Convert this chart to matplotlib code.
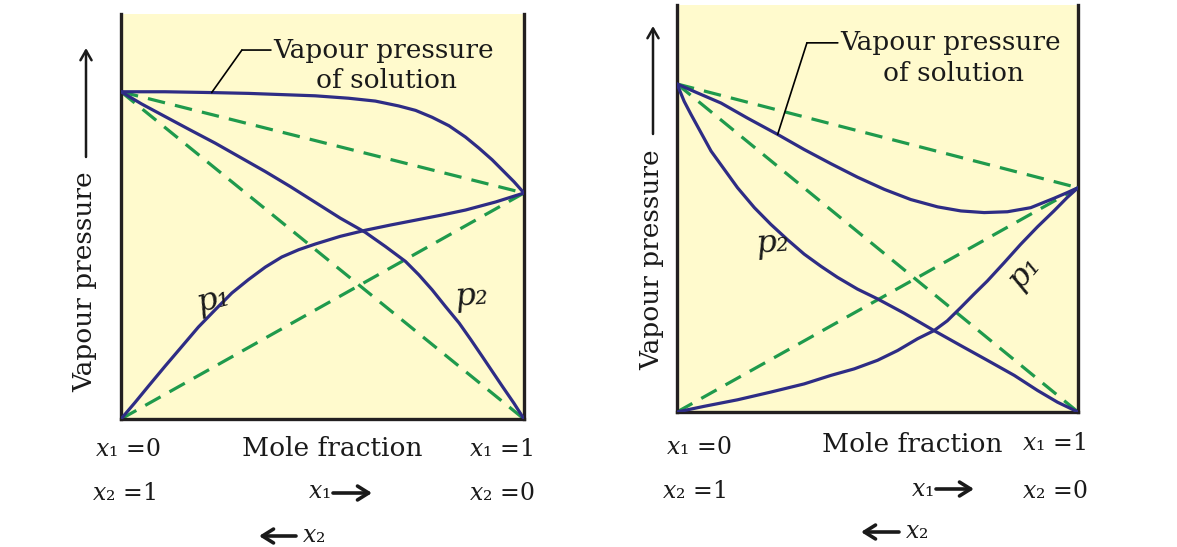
import matplotlib
matplotlib.use("Agg")
import matplotlib.pyplot as plt
from matplotlib.patches import FancyArrowPatch

# ---------------- data (fractions of axes) ----------------
# Left panel: positive deviation
L_total_x = [0, 0.109, 0.225, 0.316, 0.399, 0.482, 0.565, 0.631, 0.689, 0.731, 0.772,
             0.814, 0.855, 0.888, 0.921, 0.946, 0.975, 1.0]
L_total_y = [0.808, 0.808, 0.806, 0.804, 0.801, 0.798, 0.792, 0.785, 0.773, 0.762, 0.745,
             0.724, 0.696, 0.669, 0.640, 0.615, 0.586, 0.558]
L_p2_x = [0, 0.051, 0.109, 0.171, 0.234, 0.296, 0.358, 0.420, 0.482, 0.544, 0.606, 0.656,
          0.706, 0.739, 0.772, 0.805, 0.839, 0.868, 0.896, 0.921, 0.946, 0.975, 1.0]
L_p2_y = [0.808, 0.778, 0.747, 0.714, 0.681, 0.646, 0.611, 0.574, 0.535, 0.496, 0.461, 0.426,
          0.389, 0.356, 0.319, 0.278, 0.237, 0.196, 0.155, 0.118, 0.081, 0.039, 0.0]
L_p1_x = [0, 0.035, 0.068, 0.109, 0.151, 0.192, 0.234, 0.275, 0.316, 0.358, 0.399, 0.441,
          0.482, 0.544, 0.606, 0.669, 0.731, 0.793, 0.855, 0.930, 1.0]
L_p1_y = [0, 0.041, 0.081, 0.130, 0.179, 0.227, 0.270, 0.311, 0.344, 0.375, 0.400, 0.418,
          0.432, 0.451, 0.466, 0.479, 0.491, 0.503, 0.516, 0.536, 0.558]
L_p2_pure = 0.808
L_p1_pure = 0.558

# Right panel: negative deviation
R_total_x = [0, 0.051, 0.110, 0.176, 0.251, 0.317, 0.384, 0.450, 0.517, 0.583, 0.650,
             0.708, 0.766, 0.824, 0.882, 0.940, 0.973, 1.0]
R_total_y = [0.806, 0.784, 0.759, 0.722, 0.682, 0.645, 0.610, 0.577, 0.547, 0.522, 0.504,
             0.494, 0.490, 0.492, 0.502, 0.525, 0.539, 0.551]
R_p2_x = [0, 0.018, 0.035, 0.060, 0.085, 0.118, 0.151, 0.193, 0.234, 0.276, 0.317, 0.359,
          0.400, 0.450, 0.500, 0.566, 0.641, 0.708, 0.774, 0.841, 0.899, 0.949, 1.0]
R_p2_y = [0.806, 0.763, 0.731, 0.686, 0.641, 0.596, 0.551, 0.502, 0.461, 0.423, 0.388, 0.358,
          0.331, 0.302, 0.278, 0.243, 0.200, 0.163, 0.127, 0.090, 0.053, 0.024, 0.0]
R_p1_x = [0, 0.068, 0.151, 0.234, 0.317, 0.384, 0.442, 0.500, 0.550, 0.600, 0.641, 0.674,
          0.708, 0.741, 0.774, 0.816, 0.857, 0.899, 0.940, 0.973, 1.0]
R_p1_y = [0, 0.014, 0.030, 0.049, 0.069, 0.090, 0.106, 0.127, 0.151, 0.180, 0.200, 0.224,
          0.257, 0.290, 0.322, 0.367, 0.412, 0.455, 0.494, 0.527, 0.551]
R_p2_pure = 0.806
R_p1_pure = 0.551

W, H = 1177, 547
BLUE = "#2e2c85"
GREEN = "#1f9a4c"
YELLOW = "#fffacd"
INK = "#231f20"
TXT = "#1a1a1a"
FS = 19
FS_SMALL = 17

plt.rcParams["font.family"] = ["DejaVu Serif", "DejaVu Sans"]
plt.rcParams["mathtext.fontset"] = "dejavuserif"

fig = plt.figure(figsize=(W / 100, H / 100), dpi=100)


def px(x, y):
    return x / W, 1 - y / H


def make_axes(left, top, right, bottom):
    ax = fig.add_axes([left / W, 1 - bottom / H, (right - left) / W, (bottom - top) / H])
    ax.set_facecolor(YELLOW)
    ax.set_xlim(0, 1)
    ax.set_ylim(0, 1)
    ax.set_xticks([])
    ax.set_yticks([])
    ax.spines["top"].set_visible(False)
    for s in ("left", "right", "bottom"):
        ax.spines[s].set_linewidth(2.4)
        ax.spines[s].set_color(INK)
    return ax


def draw_panel(ax, tx, ty, p1x, p1y, p2x, p2y, p1pure, p2pure):
    dash = dict(color=GREEN, lw=2.3, ls=(0, (5.5, 3.2)), zorder=2)
    ax.plot([0, 1], [p2pure, 0], **dash)
    ax.plot([0, 1], [0, p1pure], **dash)
    ax.plot([0, 1], [p2pure, p1pure], **dash)
    solid = dict(color=BLUE, lw=2.3, zorder=3, solid_capstyle="round", solid_joinstyle="round")
    ax.plot(tx, ty, **solid)
    ax.plot(p1x, p1y, **solid)
    ax.plot(p2x, p2y, **solid)


def leader(ax, pt, elbow, end):
    ax.annotate("", xy=pt, xycoords="data", xytext=elbow, textcoords="axes fraction",
                arrowprops=dict(arrowstyle="-", lw=1.2, color="black", shrinkA=0, shrinkB=0))
    ax.annotate("", xy=elbow, xycoords="axes fraction", xytext=end, textcoords="axes fraction",
                arrowprops=dict(arrowstyle="-", lw=1.2, color="black", shrinkA=0, shrinkB=0))


def plabel(x, y, s, rot):
    fig.text(*px(x, y), s, fontsize=23, fontstyle="italic", ha="center", va="center",
             rotation=rot, color=TXT)


# ---------------- left panel ----------------
axL = make_axes(121, 14, 524, 419)
draw_panel(axL, L_total_x, L_total_y, L_p1_x, L_p1_y, L_p2_x, L_p2_y, L_p1_pure, L_p2_pure)
leader(axL, (L_total_x[2], L_total_y[2]), (0.300, 0.911), (0.372, 0.911))
axL.text(0.378, 0.911, "Vapour pressure", transform=axL.transAxes, fontsize=FS,
         ha="left", va="center", color=TXT)
axL.text(0.483, 0.835, "of solution", transform=axL.transAxes, fontsize=FS,
         ha="left", va="center", color=TXT)
plabel(214, 300, "p₁", 15)
plabel(472, 296, "p₂", 5)

# ---------------- right panel ----------------
axR = make_axes(677, 5, 1078, 412)
draw_panel(axR, R_total_x, R_total_y, R_p1_x, R_p1_y, R_p2_x, R_p2_y, R_p1_pure, R_p2_pure)
leader(axR, (R_total_x[4], R_total_y[4]), (0.324, 0.907), (0.401, 0.907))
axR.text(0.406, 0.907, "Vapour pressure", transform=axR.transAxes, fontsize=FS,
         ha="left", va="center", color=TXT)
axR.text(0.513, 0.832, "of solution", transform=axR.transAxes, fontsize=FS,
         ha="left", va="center", color=TXT)
plabel(773, 243, "p₂", 5)
plabel(1024, 272, "p₁", 50)


# ---------------- axis labels outside ----------------
def arrow(x0, y0, x1, y1, lw=1.8, hl=7, hw=4):
    fig.add_artist(FancyArrowPatch(px(x0, y0), px(x1, y1), transform=fig.transFigure,
                                   arrowstyle=f"->,head_length={hl},head_width={hw}",
                                   lw=lw, color=TXT, shrinkA=0, shrinkB=0))


def vlabel(xc, yc, y_arrow_bot, y_arrow_top):
    fig.text(*px(xc, yc), "Vapour pressure", fontsize=FS, rotation=90,
             ha="center", va="center", color=TXT)
    arrow(xc + 1, y_arrow_bot, xc + 1, y_arrow_top)


vlabel(85, 282, 157, 48)
vlabel(652, 260, 134, 26)


def tlabel(x, y, s, fs=FS_SMALL):
    fig.text(*px(x, y), s, fontsize=fs, ha="left", va="center", color=TXT)


# left panel bottom labels
tlabel(95, 449, r"$x$₁ =0")
tlabel(242, 449, "Mole fraction", FS)
tlabel(469, 449, r"$x$₁ =1")
tlabel(92, 493, r"$x$₂ =1")
tlabel(469, 493, r"$x$₂ =0")
tlabel(308, 492, r"$x$₁")
arrow(333, 493, 372, 493, lw=2.6, hl=8, hw=5)
arrow(296, 536, 259, 536, lw=2.6, hl=8, hw=5)
tlabel(302, 535, r"$x$₂")

# right panel bottom labels
tlabel(666, 448, r"$x$₁ =0")
tlabel(822, 444, "Mole fraction", FS)
tlabel(1022, 444, r"$x$₁ =1")
tlabel(662, 491, r"$x$₂ =1")
tlabel(1022, 491, r"$x$₂ =0")
tlabel(911, 489, r"$x$₁")
arrow(936, 489, 974, 489, lw=2.6, hl=8, hw=5)
arrow(899, 532, 861, 532, lw=2.6, hl=8, hw=5)
tlabel(905, 531, r"$x$₂")

fig.savefig("out.png", dpi=100, facecolor="white")
